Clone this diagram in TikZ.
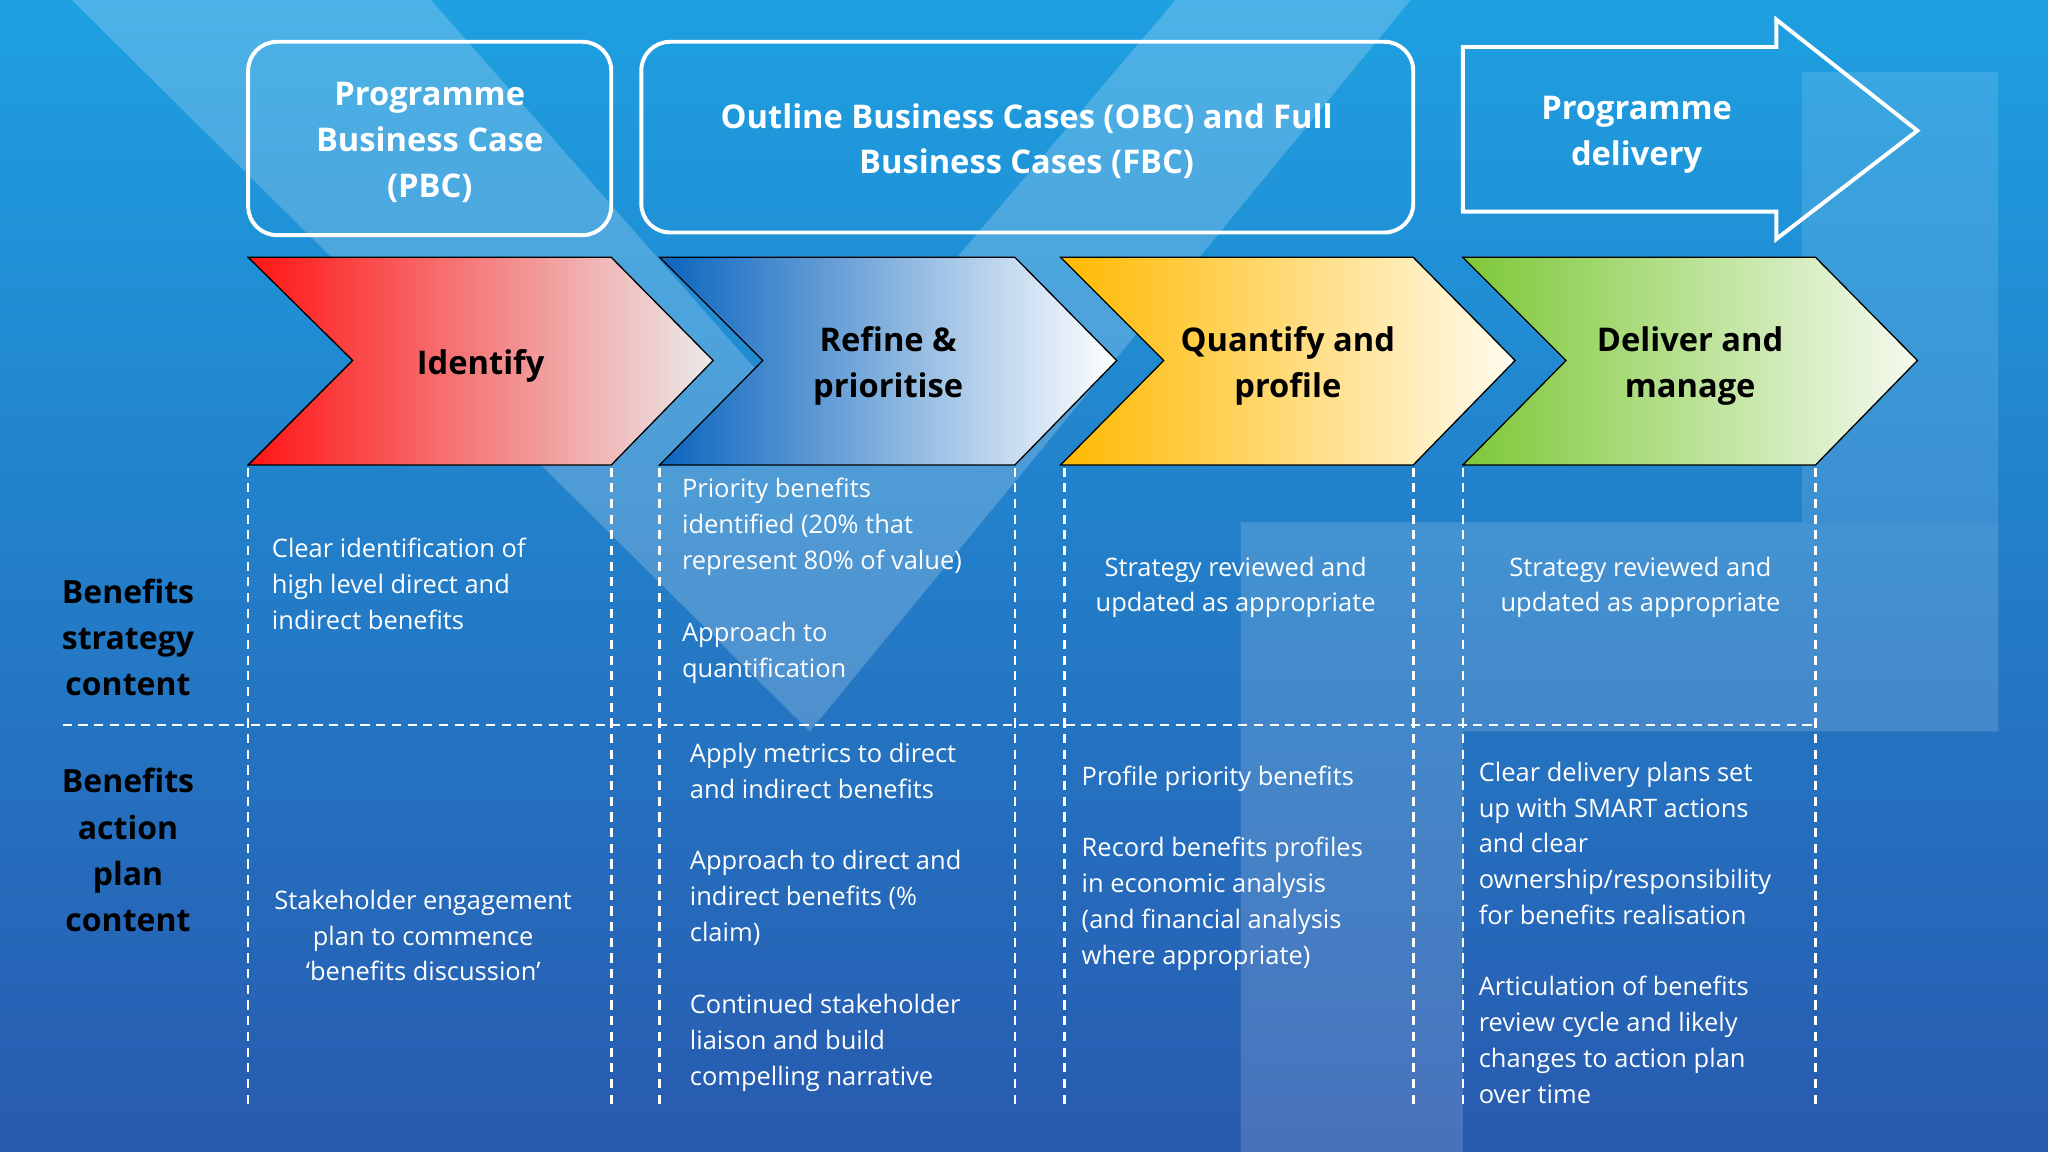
\documentclass[tikz,border=0pt]{standalone}
\usepackage{fontspec}
\setmainfont{Open Sans}
\begin{document}
\begin{tikzpicture}[x=1pt,y=-1pt,
  txt/.style={text=white,inner sep=0pt,font=\fontsize{19.5}{27.5}\selectfont},
  lt/.style={txt,anchor=north west,align=left},
  ct/.style={txt,anchor=north,align=center},
  hd/.style={text=white,inner sep=0pt,align=center,font=\fontsize{25}{35}\selectfont\bfseries},
  cv/.style={text=black,inner sep=0pt,align=center,font=\fontsize{25}{35}\selectfont\bfseries},
  lab/.style={text=black,inner sep=0pt,align=center,font=\fontsize{24.5}{35.5}\selectfont\bfseries},
  box/.style={draw=white,line width=3pt,rounded corners=22pt},
  chev/.style={draw=black,line width=1pt},
  dsh/.style={draw=white,line width=2pt,dash pattern=on 7pt off 5pt}]
\useasboundingbox (0,0) rectangle (1568,882);
\shade[top color={rgb,255:red,30;green,160;blue,225}, bottom color={rgb,255:red,40;green,90;blue,175}] (0,0) rectangle (1568,882);
% background light shapes
\fill[white,opacity=0.2] (55,0) -- (330,0) -- (620,330) -- (900,0) -- (1080,0) -- (620,560) -- cycle;
\fill[white,opacity=0.15] (950,400) -- (1530,400) -- (1530,560) -- (1120,560) -- (1120,882) -- (950,882) -- cycle;
\fill[white,opacity=0.12] (1380,55) -- (1530,55) -- (1530,400) -- (1380,400) -- cycle;
% top boxes
\draw[box] (190,32) rectangle (468,180);
\node[hd] (pbc) at (329,109) {Programme\\Business Case\\(PBC)};
\draw[box] (491,32) rectangle (1082,178);
\node[hd] (obc) at (786,108) {Outline Business Cases (OBC) and Full\\Business Cases (FBC)};
\draw[draw=white,line width=3pt,line join=miter] (1120,36) -- (1360,36) -- (1360,15) -- (1468,100) -- (1360,183) -- (1360,162) -- (1120,162) -- cycle;
\node[hd] (pd) at (1253,103) {Programme\\delivery};
% chevrons
\shade[left color={rgb,255:red,255;green,20;blue,20}, right color={rgb,255:red,235;green,235;blue,235}] (190,197) -- (468,197) -- (546,276) -- (468,356) -- (190,356) -- (270,276) -- cycle;
\draw[chev] (190,197) -- (468,197) -- (546,276) -- (468,356) -- (190,356) -- (270,276) -- cycle;
\shade[left color={rgb,255:red,10;green,100;blue,190}, right color=white] (505,197) -- (777,197) -- (855,276) -- (777,356) -- (505,356) -- (584,276) -- cycle;
\draw[chev] (505,197) -- (777,197) -- (855,276) -- (777,356) -- (505,356) -- (584,276) -- cycle;
\shade[left color={rgb,255:red,255;green,185;blue,0}, right color={rgb,255:red,255;green,252;blue,240}] (812,197) -- (1082,197) -- (1160,276) -- (1082,356) -- (812,356) -- (891,276) -- cycle;
\draw[chev] (812,197) -- (1082,197) -- (1160,276) -- (1082,356) -- (812,356) -- (891,276) -- cycle;
\shade[left color={rgb,255:red,125;green,200;blue,55}, right color={rgb,255:red,245;green,250;blue,240}] (1120,197) -- (1390,197) -- (1468,276) -- (1390,356) -- (1120,356) -- (1199,276) -- cycle;
\draw[chev] (1120,197) -- (1390,197) -- (1468,276) -- (1390,356) -- (1120,356) -- (1199,276) -- cycle;
\node[cv] (c1) at (368,280) {Identify};
\node[cv] (c2) at (680,280) {Refine \&\\prioritise};
\node[cv] (c3) at (986,280) {Quantify and\\profile};
\node[cv] (c4) at (1294,280) {Deliver and\\manage};
% dashed lines
\foreach \x in {190,468,505,777,815,1082,1120,1390} \draw[dsh] (\x,358) -- (\x,845);
\draw[dsh] (48,555) -- (1390,555);
% left labels
\node[lab] (l1) at (98,488) {Benefits\\strategy\\content};
\node[lab] (l2) at (98,651) {Benefits\\action\\plan\\content};
% texts
\node[lt] (t1) at (208,412) {Clear identification of\\high level direct and\\indirect benefits};
\node[lt] (t2) at (522,366) {Priority benefits\\identified (20\% that\\represent 80\% of value)};
\node[lt] (t3) at (522,476) {Approach to\\quantification};
\node[ct] (t4) at (946,426) {Strategy reviewed and\\updated as appropriate};
\node[ct] (t5) at (1256,426) {Strategy reviewed and\\updated as appropriate};
\node[ct] (b1) at (324,681) {Stakeholder engagement\\plan to commence\\‘benefits discussion’};
\node[lt] (b2) at (528,569) {Apply metrics to direct\\and indirect benefits};
\node[lt] (b3) at (528,651) {Approach to direct and\\indirect benefits (\%\\claim)};
\node[lt] (b4) at (528,761) {Continued stakeholder\\liaison and build\\compelling narrative};
\node[lt] (b5) at (828,586) {Profile priority benefits};
\node[lt] (b6) at (828,641) {Record benefits profiles\\in economic analysis\\(and financial analysis\\where appropriate)};
\node[lt] (b7) at (1132,583) {Clear delivery plans set\\up with SMART actions\\and clear\\ownership/responsibility\\for benefits realisation};
\node[lt] (b8) at (1132,747) {Articulation of benefits\\review cycle and likely\\changes to action plan\\over time};
\end{tikzpicture}
\end{document}
